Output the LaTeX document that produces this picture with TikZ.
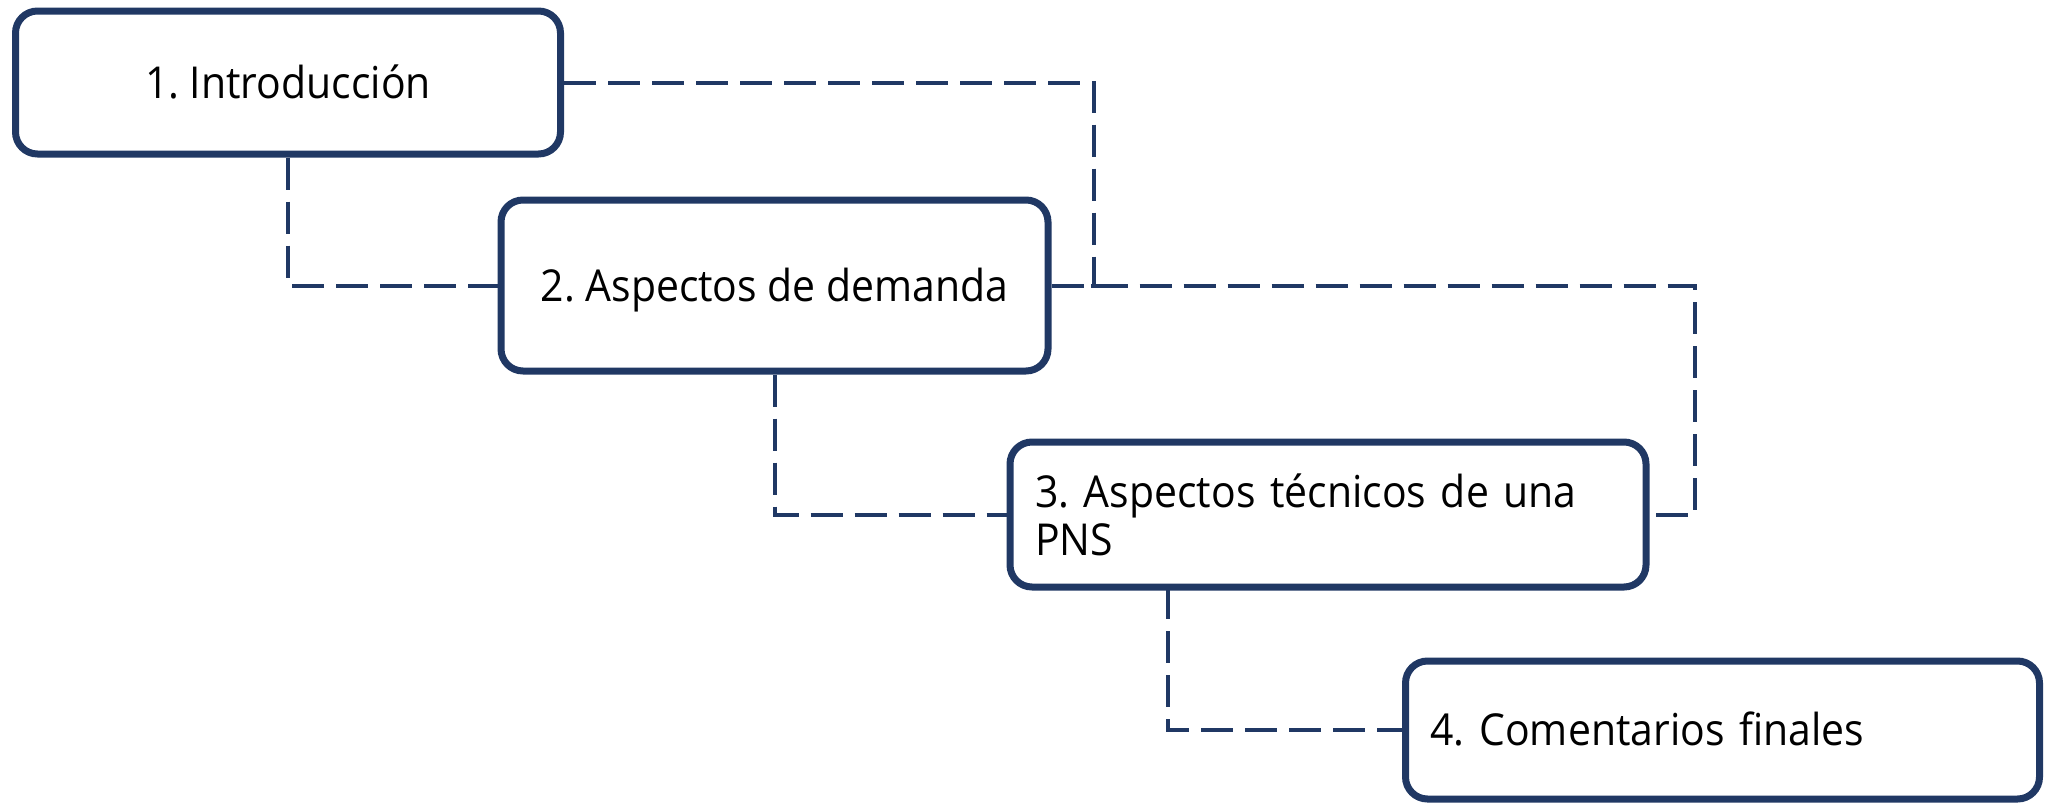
\documentclass[tikz,border=0pt]{standalone}
\usepackage{fontspec}
\setmainfont{Open Sans}[FakeStretch=0.93]
\frenchspacing
\definecolor{navy}{HTML}{203864}
\begin{document}
\begin{tikzpicture}[x=1pt,y=-1pt,
  box/.style={draw=navy, line width=7pt, fill=white, rounded corners=22pt,
    inner sep=0pt, font=\fontsize{44}{48}\selectfont, text=black},
  oneline/.style={text height=31.5pt, text depth=0pt},
  conn/.style={draw=navy, line width=4pt, dash pattern=on 32pt off 12pt}]
\useasboundingbox (0,0) rectangle (2052,803);
\node[box, oneline, minimum width=545pt, minimum height=143pt] (b1) at (288,82.5) {1. Introducción};
\node[box, oneline, minimum width=547pt, minimum height=171pt] (b2) at (774.5,285.5) {2. Aspectos de demanda};
\node[box, minimum width=636pt, minimum height=145pt, text width=586pt, align=left] (b3) at (1328,514.5) {3. Aspectos técnicos de una\\PNS};
\node[box, oneline, minimum width=634pt, minimum height=138pt, text width=584pt, align=left] (b4) at (1722.5,730) {4. Comentarios finales};
\coordinate (k1) at (1094,285.5);
\coordinate (k2) at (1695,514.5);
\coordinate (s3) at (1168,587);
\draw[conn] (b1.south) |- (b2.west);
\draw[conn] (b1.east) -| (k1) -- (b2.east);
\draw[conn] (b2.south) |- (b3.west);
\draw[conn] (b2.east) -| (k2) -- (b3.east);
\draw[conn] (s3) |- (b4.west);
\end{tikzpicture}
\end{document}
